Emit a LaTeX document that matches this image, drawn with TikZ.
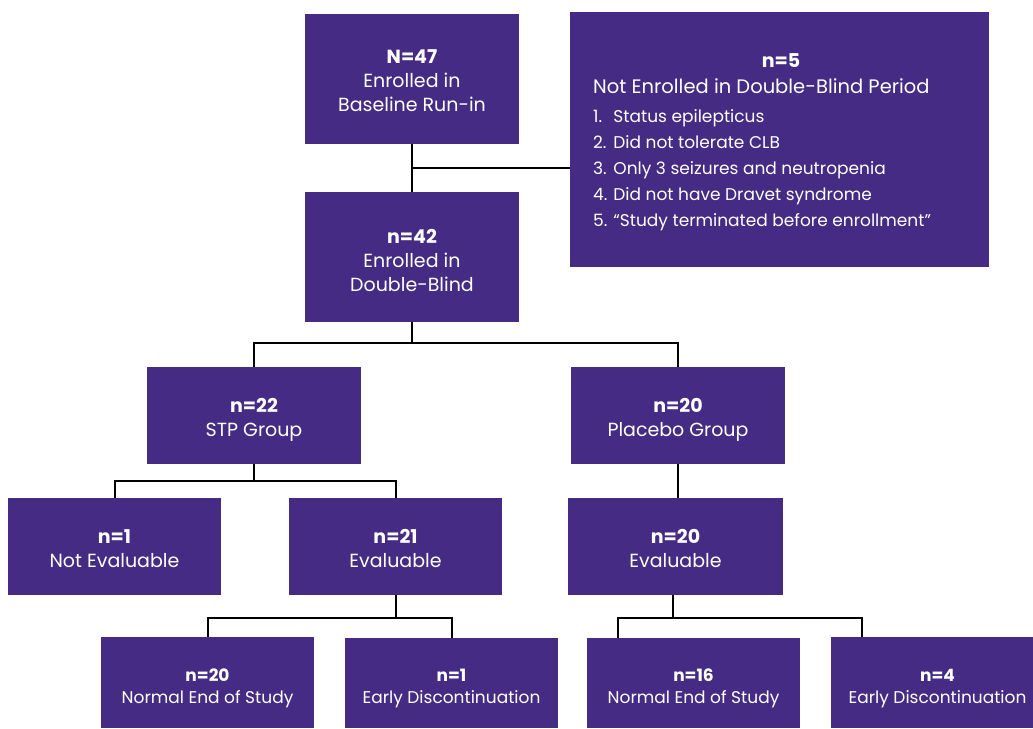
\documentclass[tikz,border=0pt]{standalone}
\usepackage{fontspec}
\setmainfont{Poppins}
\usetikzlibrary{calc}
\definecolor{purp}{HTML}{452B84}
\begin{document}
\begin{tikzpicture}[x=1pt,y=-1pt,
  box/.style={fill=purp,inner sep=0pt},
  txt/.style={text=white,align=center,inner sep=0pt,font=\fontsize{19}{24}\selectfont},
  small/.style={font=\fontsize{17}{21.5}\selectfont},
  btext/.style={text=white,inner sep=0pt},
  conn/.style={draw=black,line width=2pt}]
\useasboundingbox (0,0) rectangle (1033,728);
% boxes
\node[box,minimum width=214pt,minimum height=130pt] (A) at (412,79) {};
\node[txt] (At) at ($(A)+(0,2)$) {\textbf{N=47}\\Enrolled in\\Baseline Run-in};
\node[box,minimum width=419pt,minimum height=255pt] (B) at (779.5,139.5) {};
\node[btext,font=\fontsize{19}{24}\selectfont\bfseries] (Bn) at (781,61) {n=5};
\node[btext,anchor=north west,align=left,font=\fontsize{19.5}{24}\selectfont] (Bh) at (593,78) {Not Enrolled in Double-Blind Period};
\node[btext,anchor=north west,align=left,font=\fontsize{17}{26}\selectfont] (Bl) at (593,104) {%
\begin{tabular}{@{}l@{\hspace{6pt}}l@{}}
1. & Status epilepticus\\
2. & Did not tolerate CLB\\
3. & Only 3 seizures and neutropenia\\
4. & Did not have Dravet syndrome\\
5. & “Study terminated before enrollment”
\end{tabular}};
\node[box,minimum width=214pt,minimum height=130pt] (C) at (412,257) {};
\node[txt] (Ct) at ($(C)+(0,3)$) {\textbf{n=42}\\Enrolled in\\Double-Blind};
\node[box,minimum width=214pt,minimum height=97pt] (D) at (254,415.5) {};
\node[txt] (Dt) at ($(D)+(0,4)$) {\textbf{n=22}\\STP Group};
\node[box,minimum width=214pt,minimum height=97pt] (E) at (678,415.5) {};
\node[txt] (Et) at ($(E)+(0,4)$) {\textbf{n=20}\\Placebo Group};
\node[box,minimum width=213pt,minimum height=97pt] (F) at (114.5,546.5) {};
\node[txt] (Ft) at ($(F)+(0,2)$) {\textbf{n=1}\\Not Evaluable};
\node[box,minimum width=213pt,minimum height=97pt] (G) at (395.5,546.5) {};
\node[txt] (Gt) at ($(G)+(0,2)$) {\textbf{n=21}\\Evaluable};
\node[box,minimum width=215pt,minimum height=97pt] (H) at (675.5,546.5) {};
\node[txt] (Ht) at ($(H)+(0,2)$) {\textbf{n=20}\\Evaluable};
\node[box,minimum width=213pt,minimum height=91pt] (I) at (207.5,682.5) {};
\node[txt,small] (It) at ($(I)+(0,6)$) {\textbf{n=20}\\Normal End of Study};
\node[box,minimum width=213pt,minimum height=90pt] (J) at (451.5,683) {};
\node[txt,small] (Jt) at ($(J)+(0,5.5)$) {\textbf{n=1}\\Early Discontinuation};
\node[box,minimum width=213pt,minimum height=90pt] (K) at (693.5,683) {};
\node[txt,small] (Kt) at ($(K)+(0,5.5)$) {\textbf{n=16}\\Normal End of Study};
\node[box,minimum width=213pt,minimum height=91pt] (L) at (937.5,682.5) {};
\node[txt,small] (Lt) at ($(L)+(0,6)$) {\textbf{n=4}\\Early Discontinuation};
% connectors
\coordinate (j1) at ($(A.south)!0.5!(C.north)$);
\draw[conn] (A.south) -- (C.north);
\draw[conn] (j1) -- (j1 -| B.west);
\coordinate (j2) at ($(C.south)+(0,21)$);
\draw[conn] (C.south) -- (j2);
\draw[conn] (D.north) |- (j2) -| (E.north);
\coordinate (j3) at ($(D.south)+(0,17)$);
\coordinate (fT) at ($(F.north)+(0.5,0)$);
\coordinate (gT) at ($(G.north)+(0.5,0)$);
\draw[conn] (D.south) -- (j3);
\draw[conn] (fT) |- (j3) -| (gT);
\draw[conn] (E.south) -- (E.south |- H.north);
\coordinate (j4) at ($(G.south)+(0,23)$);
\draw[conn] (G.south) -- (j4);
\draw[conn] (I.north) |- (j4) -| (J.north);
\coordinate (j5) at ($(H.south)+(-2.5,23)$);
\coordinate (kT) at ($(K.north west)+(31,0)$);
\coordinate (lT) at ($(L.north west)+(31,0)$);
\draw[conn] ($(H.south)+(-2.5,0)$) -- (j5);
\draw[conn] (kT) |- (j5) -| (lT);
\end{tikzpicture}
\end{document}
